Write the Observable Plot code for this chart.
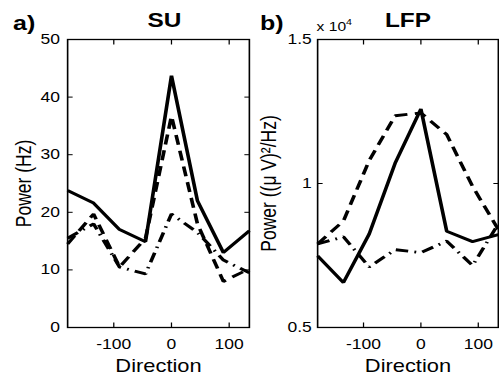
<!DOCTYPE html>
<html>
<head>
<meta charset="utf-8">
<script src="https://cdn.jsdelivr.net/npm/d3@7"></script>
<script src="https://cdn.jsdelivr.net/npm/@observablehq/plot@0.6"></script>
<style>
html, body { margin: 0; padding: 0; background: #fff; overflow: hidden; }
#fig { position: relative; width: 399.2px; height: 376px; transform: scaleX(1.25); transform-origin: 0 0; }
#fig svg { position: absolute; top: 0; }
</style>
</head>
<body>
<div id="fig"></div>
<script>
// ---- data ----
const directions = [-180, -135, -90, -45, 0, 45, 90, 135];
const xTicks = [-100, 0, 100];

// Panel a) SU, Power (Hz)
const suSolid   = [23.8, 21.6, 17.0, 14.9, 43.7, 22.0, 13.0, 16.8];
const suDashed  = [14.5, 19.7, 10.5, 15.5, 36.7, 18.0, 8.0, 10.2];
const suDashDot = [15.5, 18.0, 10.5, 9.3, 19.7, 16.5, 11.7, 9.5];
const suYTicks  = [0, 10, 20, 30, 40, 50];

// Panel b) LFP, Power ((µV)^2/Hz) in units of 10^4
const lfpSolid   = [0.749, 0.656, 0.825, 1.07, 1.259, 0.834, 0.798, 0.822];
const lfpDashed  = [0.79, 0.87, 1.08, 1.235, 1.245, 1.17, 0.99, 0.84];
const lfpDashDot = [0.79, 0.815, 0.71, 0.77, 0.76, 0.80, 0.715, 0.86];
const lfpYTicks  = [0.5, 1, 1.5];

const FONT = '"Liberation Sans", Arial, Helvetica, sans-serif';
const DASHED = "10,6";
const DASHDOT = "10,5,1.5,5";

function rows(vals) { return directions.map((d, i) => ({dir: d, v: vals[i]})); }

function panel({series, yDomain, yTicks, yLabel, yLabelOffset, yPad, width, left}) {
  const svg = Plot.plot({
    width, height: 376,
    marginLeft: 53.6, marginRight: 1, marginTop: 39, marginBottom: 49,
    style: {fontFamily: FONT, fontSize: "14px", color: "#000", background: "transparent", overflow: "visible"},
    x: {domain: [-180, 135]},
    y: {domain: yDomain},
    marks: [
      Plot.axisX({anchor: "bottom", ticks: xTicks, tickSize: -4.5, tickPadding: 15.8,
                  tickFormat: d => String(d), label: "Direction", labelAnchor: "center",
                  labelOffset: 44.5, labelArrow: "none"}),
      Plot.axisX({anchor: "top", ticks: xTicks, tickSize: -4.5, fill: "none", label: null}),
      Plot.axisY({anchor: "left", ticks: yTicks, tickSize: -4.5, tickPadding: yPad,
                  tickFormat: d => String(d), label: yLabel, labelAnchor: "center",
                  labelOffset: yLabelOffset, labelArrow: "none"}),
      Plot.axisY({anchor: "right", ticks: yTicks, tickSize: -4.5, fill: "none", label: null}),
      ...series.map(s => Plot.line(rows(s.values), {
        x: "dir", y: "v", stroke: "#000", strokeWidth: 2.9,
        strokeDasharray: s.dash, strokeLinecap: "butt", strokeLinejoin: "miter"
      })),
      Plot.frame({stroke: "#000", strokeWidth: 1.3})
    ]
  });
  svg.style.left = left + "px";
  svg.querySelectorAll('[aria-label="x-axis label"], [aria-label="y-axis label"]').forEach(g => {
    g.setAttribute("font-size", "17.5");
  });
  return svg;
}

const fig = document.getElementById("fig");

fig.appendChild(panel({
  series: [
    {values: suSolid, dash: null},
    {values: suDashed, dash: DASHED},
    {values: suDashDot, dash: DASHDOT}
  ],
  yDomain: [0, 50], yTicks: suYTicks, yLabel: "Power (Hz)",
  yLabelOffset: 41.6, yPad: 10.7, width: 200, left: 0
}));

fig.appendChild(panel({
  series: [
    {values: lfpSolid, dash: null},
    {values: lfpDashed, dash: DASHED},
    {values: lfpDashDot, dash: DASHDOT}
  ],
  yDomain: [0.5, 1.5], yTicks: lfpYTicks, yLabel: "Power ((\u03BC V)\u00B2/Hz)",
  yLabelOffset: 45.6, yPad: 9.2, width: 199.2, left: 200
}));

// titles and panel letters
const ns = "http://www.w3.org/2000/svg";
const over = document.createElementNS(ns, "svg");
over.setAttribute("width", 399.2);
over.setAttribute("height", 376);
over.style.left = "0px";
over.style.fontFamily = FONT;
function addText(str, x, y, size, weight, anchor) {
  const t = document.createElementNS(ns, "text");
  t.setAttribute("x", x); t.setAttribute("y", y);
  t.setAttribute("font-size", size);
  t.setAttribute("font-weight", weight);
  t.setAttribute("text-anchor", anchor);
  t.setAttribute("fill", "#000");
  t.textContent = str;
  over.appendChild(t);
  return t;
}
addText("a)", 10.4, 30, 20, "bold", "start");
addText("SU", 131.6, 27, 19.5, "bold", "middle");
addText("b)", 208, 30, 20, "bold", "start");
addText("LFP", 326.4, 27, 19.5, "bold", "middle");
const mult = addText("x 10", 253.3, 31, 12.5, "normal", "start");
const sup = document.createElementNS(ns, "tspan");
sup.setAttribute("font-size", 8.5);
sup.setAttribute("dy", -6);
sup.textContent = "4";
mult.appendChild(sup);
fig.appendChild(over);
</script>
</body>
</html>
